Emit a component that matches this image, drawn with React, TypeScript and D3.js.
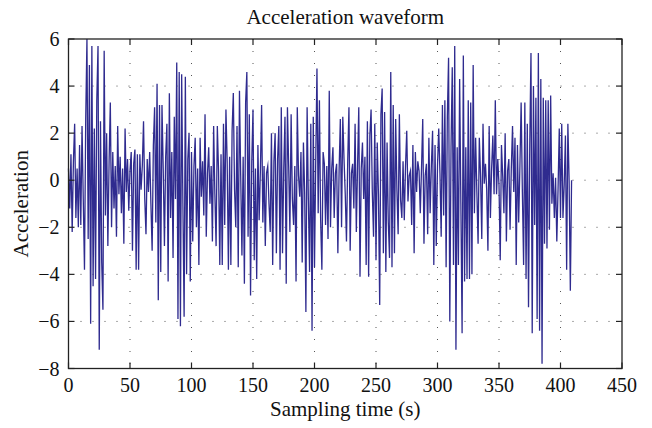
import * as React from "react";
import * as d3 from "d3";

// acceleration samples, one per second
const accel: number[] = [
  0.5, -1.2, 1.1, -2.2, 0.8, 2.4, -1.6, 0.5, -2.0, 1.5,
  -1.9, 2.3, -0.8, -3.8, 2.6, 6.0, -2.5, 4.9, -6.1, 5.7,
  -4.5, 2.2, -4.2, 3.4, 5.7, -7.2, 2.5, -3.5, -5.5, 5.5,
  -1.5, 2.0, -2.8, 0.8, 3.3, -2.0, 1.2, -1.2, 0.6, -2.4,
  2.3, -0.6, 1.0, -1.4, 0.5, -2.7, 2.2, -0.5, 0.9, -1.3,
  0.4, 1.2, -3.0, 0.7, 1.3, -3.8, 1.1, -3.8, 1.1, -0.4,
  0.6, 2.5, -0.8, -2.3, 0.9, -0.5, 1.2, -1.0, -3.0, 1.5,
  3.1, -1.8, 4.1, -5.1, 3.2, -3.9, 3.2, 0.5, -2.8, 1.0,
  2.4, -4.3, 3.7, -1.6, 1.2, -3.3, 2.7, -0.8, 5.0, -5.9,
  4.6, -6.2, 4.5, -1.0, -5.8, 4.4, -4.0, 0.9, 2.0, -4.3,
  1.2, -2.6, 0.6, 1.8, -2.0, 0.5, -3.6, 1.8, -0.7, 0.8,
  -1.5, 2.8, -2.4, 0.3, 1.4, -1.0, 0.6, -2.6, 2.3, -0.6,
  -2.8, 2.3, 0.4, -3.6, 1.1, -3.6, 2.4, -1.9, 3.0, 0.8,
  -3.8, 1.0, -3.6, 2.1, 3.7, -0.4, -2.0, 2.3, -3.7, 3.8,
  0.2, -3.2, 1.0, -4.4, 3.3, 4.6, -2.4, 2.8, -4.9, 0.8,
  3.0, -3.4, 0.5, -4.2, 1.5, -1.7, 0.4, 3.2, -1.8, 0.6,
  -2.8, 0.3, 0.6, -1.0, -2.2, 2.0, -3.6, 0.8, 2.0, -3.1,
  0.9, 2.3, -3.8, 3.1, -3.1, 0.5, 2.7, -4.4, 3.1, 0.6,
  -2.2, 2.8, -0.8, -1.9, 0.6, -4.3, 3.1, 0.2, -0.7, 1.2,
  -3.5, 1.6, -0.5, -5.6, 3.1, -0.8, -3.9, 2.4, -6.4, 2.7,
  -3.7, 0.8, 4.75, -1.4, 3.4, -1.7, -3.8, 1.2, 0.7, -1.9,
  0.6, -2.5, 3.8, -2.0, 0.5, 1.4, -1.6, 0.3, 0.7, -3.1,
  0.4, 2.6, -2.0, 2.7, 0.9, -0.6, -2.6, 0.8, 3.1, -3.0,
  0.3, 0.7, -1.2, 2.4, -2.2, 0.6, 3.1, -4.1, 0.5, 1.6,
  -0.8, 1.0, -3.6, 2.5, -4.1, 1.9, 3.0, -0.5, -2.4, 2.4,
  -3.4, 1.6, -0.6, -5.3, 2.8, 3.9, -3.1, 2.9, -3.9, 1.6,
  -1.8, -3.3, 4.6, -3.7, 3.2, -3.1, 2.6, -0.4, -2.3, 2.8,
  -0.85, -1.6, 0.8, -1.7, 0.6, 2.1, -0.9, 0.2, 0.4, -1.9,
  1.5, -3.1, 1.2, -0.5, 0.8, 0.4, -1.4, 0.5, 2.6, -2.7,
  0.2, 0.7, -2.3, 1.8, -1.4, 0.6, 2.1, -3.6, 1.5, -2.8,
  0.6, 2.2, 0.3, -2.4, 3.2, -1.5, 3.4, -3.7, 2.7, 5.2,
  -6.0, 1.4, 4.8, -3.6, 5.7, -7.2, 1.4, -3.6, 4.3, -1.0,
  -6.5, 5.3, -4.3, 1.4, -4.2, 3.4, -4.2, 3.3, -4.0, 4.9,
  -1.4, 1.8, -0.5, -2.7, 1.8, 0.2, -2.5, 2.4, -0.15, 0.7,
  -0.4, -3.0, 2.3, -1.6, 0.5, 1.9, -0.6, 3.4, -0.6, 0.9,
  -0.2, -3.4, 1.5, 0.2, -1.4, 2.0, -2.6, 0.4, 0.9, -2.1,
  0.5, 2.3, -0.5, 1.8, -3.6, 1.5, -1.8, 0.6, 3.3, -0.5,
  -3.6, 3.3, -4.2, 2.4, -5.4, 1.5, 5.4, -6.5, 4.0, -1.9,
  3.5, -5.9, 5.4, -6.4, 4.3, -7.8, 3.5, -2.7, 3.4, -2.9,
  3.4, -2.1, 3.6, -1.0, 0.3, -1.6, 0.1, -2.6, -0.4, 2.2,
  -1.6, 2.4, -1.6, -0.2, 1.9, -3.8, 2.4, 0.0, -4.7, 0.0,
];

const xTicks = [0, 50, 100, 150, 200, 250, 300, 350, 400, 450];
const yTicks = [-8, -6, -4, -2, 0, 2, 4, 6];

const title = "Acceleration waveform";
const xLabel = "Sampling time (s)";
const yLabel = "Acceleration";

function App() {
  const width = 652;
  const height = 428;
  const left = 68.5;
  const right = 622;
  const top = 39;
  const bottom = 368.5;
  const font = "'Liberation Serif', 'DejaVu Serif', serif";

  const x = d3.scaleLinear().domain([0, 450]).range([left, right]);
  const y = d3.scaleLinear().domain([-8, 6]).range([bottom, top]);

  const line = d3
    .line<number>()
    .x((d, i) => x(i))
    .y((d) => y(d));

  const fmt = d3.format("d");

  return (
    <svg
      width={width}
      height={height}
      style={{ position: "absolute", left: 0, top: 0, background: "#fff" }}
    >
      <rect x={0} y={0} width={width} height={height} fill="#fff" />
      {/* grid */}
      {xTicks.slice(1, -1).map((t) => (
        <line
          key={"gx" + t}
          x1={x(t)}
          x2={x(t)}
          y1={top}
          y2={bottom}
          stroke="#555"
          strokeWidth={1}
          strokeDasharray="1,11"
        />
      ))}
      {yTicks.slice(1, -1).map((t) => (
        <line
          key={"gy" + t}
          x1={left}
          x2={right}
          y1={y(t)}
          y2={y(t)}
          stroke="#555"
          strokeWidth={1}
          strokeDasharray="1,11"
        />
      ))}
      {/* waveform */}
      <path
        d={line(accel) ?? ""}
        fill="none"
        stroke="#2f2b8f"
        strokeWidth={1.3}
        strokeLinejoin="miter"
        strokeMiterlimit={10}
      />
      {/* frame */}
      <rect
        x={left}
        y={top}
        width={right - left}
        height={bottom - top}
        fill="none"
        stroke="#222"
        strokeWidth={1.3}
      />
      {xTicks.map((t) => (
        <g key={"tx" + t}>
          <line x1={x(t)} x2={x(t)} y1={bottom} y2={bottom - 6} stroke="#222" strokeWidth={1.2} />
          <line x1={x(t)} x2={x(t)} y1={top} y2={top + 6} stroke="#222" strokeWidth={1.2} />
          <text
            x={x(t)}
            y={bottom + 23}
            textAnchor="middle"
            fontFamily={font}
            fontSize={20}
            fill="#111"
          >
            {fmt(t)}
          </text>
        </g>
      ))}
      {yTicks.map((t) => (
        <g key={"ty" + t}>
          <line x1={left} x2={left + 6} y1={y(t)} y2={y(t)} stroke="#222" strokeWidth={1.2} />
          <line x1={right} x2={right - 6} y1={y(t)} y2={y(t)} stroke="#222" strokeWidth={1.2} />
          <text
            x={left - 9}
            y={y(t)}
            textAnchor="end"
            dominantBaseline="central"
            fontFamily={font}
            fontSize={20}
            fill="#111"
          >
            {t < 0 ? "\u2212" + Math.abs(t) : String(t)}
          </text>
        </g>
      ))}
      <text
        x={(left + right) / 2}
        y={24}
        textAnchor="middle"
        fontFamily={font}
        fontSize={21}
        fill="#111"
      >
        {title}
      </text>
      <text
        x={(left + right) / 2}
        y={416}
        textAnchor="middle"
        fontFamily={font}
        fontSize={21}
        fill="#111"
      >
        {xLabel}
      </text>
      <text
        transform={`translate(28, ${(top + bottom) / 2}) rotate(-90)`}
        textAnchor="middle"
        fontFamily={font}
        fontSize={21}
        fill="#111"
      >
        {yLabel}
      </text>
    </svg>
  );
}

export default App;
